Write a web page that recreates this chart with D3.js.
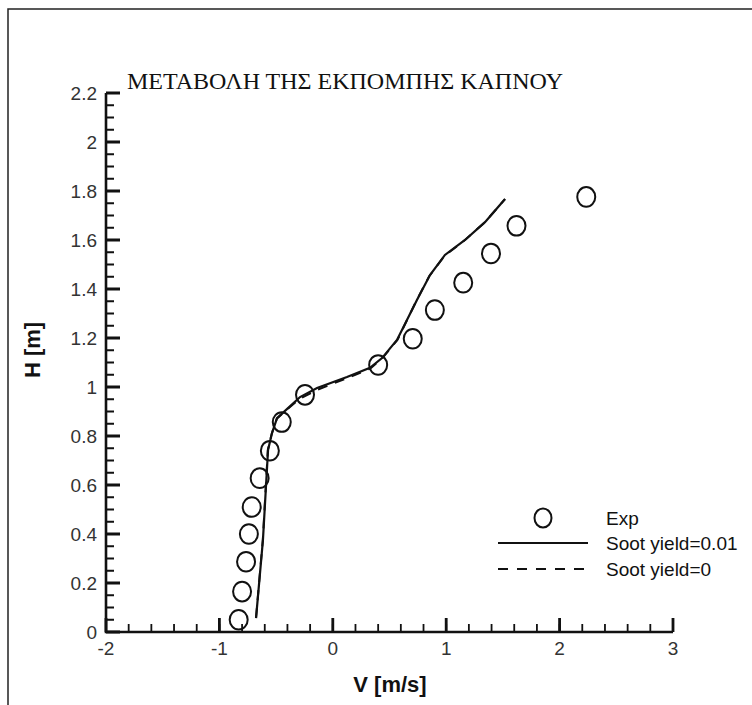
<!DOCTYPE html>
<html>
<head>
<meta charset="utf-8">
<script src="https://cdn.jsdelivr.net/npm/d3@7"></script>
<style>
  html, body { margin: 0; padding: 0; background: #ffffff; }
  svg { display: block; }
  .ticklabel { font-family: "Liberation Sans", Arial, sans-serif; font-size: 19px; fill: #333; }
</style>
</head>
<body>
<script>
// Measured velocity profile (experiment)
const expV = [-0.83, -0.80, -0.765, -0.74, -0.715, -0.645, -0.555, -0.45, -0.245, 0.40, 0.705, 0.90, 1.15, 1.395, 1.62, 2.235];
const expH = [0.05, 0.165, 0.287, 0.40, 0.51, 0.628, 0.74, 0.857, 0.968, 1.09, 1.197, 1.314, 1.426, 1.545, 1.658, 1.776];

// Computed profile, soot yield = 0.01
const sootV = [-0.677, -0.616, -0.571, -0.536, -0.492, -0.395, -0.289, -0.139, 0.125, 0.328, 0.434, 0.566, 0.742, 0.857, 0.989, 1.166, 1.342, 1.519];
const sootH = [0.057, 0.376, 0.743, 0.812, 0.873, 0.914, 0.959, 0.996, 1.041, 1.078, 1.118, 1.192, 1.355, 1.457, 1.539, 1.600, 1.673, 1.767];

// Computed profile, soot yield = 0
const noSootV = [-0.677, -0.617, -0.573, -0.538, -0.494, -0.400, -0.292, -0.130, 0.120, 0.330, 0.438, 0.570, 0.735, 0.850, 0.985, 1.160, 1.340, 1.519];
const noSootH = [0.057, 0.376, 0.743, 0.810, 0.870, 0.910, 0.952, 0.990, 1.035, 1.075, 1.118, 1.192, 1.350, 1.452, 1.535, 1.598, 1.672, 1.767];

const xTicks = [-2, -1, 0, 1, 2, 3];
const yTicks = [0, 0.2, 0.4, 0.6, 0.8, 1, 1.2, 1.4, 1.6, 1.8, 2, 2.2];
const xTickLabels = ["-2", "-1", "0", "1", "2", "3"];
const yTickLabels = ["0", "0.2", "0.4", "0.6", "0.8", "1", "1.2", "1.4", "1.6", "1.8", "2", "2.2"];

const title = "ΜΕΤΑΒΟΛΗ ΤΗΣ ΕΚΠΟΜΠΗΣ ΚΑΠΝΟΥ";
const xTitle = "V [m/s]";
const yTitle = "H [m]";
const legendLabels = ["Exp", "Soot yield=0.01", "Soot yield=0"];

const W = 752, H = 705;
const svg = d3.select("body").append("svg").attr("width", W).attr("height", H);
const ink = "#111";

// Outer frame (top and left edges)
svg.append("path")
  .attr("d", "M8,705 L8,9 L752,9")
  .attr("fill", "none").attr("stroke", "#222").attr("stroke-width", 1.5);

const x = d3.scaleLinear().domain([-2, 3]).range([106, 673]);
const y = d3.scaleLinear().domain([0, 2.2]).range([632, 93]);
const x0 = x.range()[0], y0 = y.range()[0];

// Minor tick positions
const xMinor = d3.range(0, 26).map(i => +(-2 + i * 0.2).toFixed(2));
const yMinor = d3.range(0, 45).map(i => +(i * 0.05).toFixed(2));

// Tick marks, all pointing into the plot area
const minorTicks = xMinor.map(d => `M${x(d)},${y0}V${y0 - 8}`).join("")
  + yMinor.map(d => `M${x0},${y(d)}H${x0 + 8}`).join("");
const majorTicks = xTicks.map(d => `M${x(d)},${y0}V${y0 - 14}`).join("")
  + yTicks.map(d => `M${x0},${y(d)}H${x0 + 14}`).join("");

svg.append("path").attr("d", minorTicks)
  .attr("fill", "none").attr("stroke", ink).attr("stroke-width", 1.8);
svg.append("path").attr("d", majorTicks)
  .attr("fill", "none").attr("stroke", ink).attr("stroke-width", 2.8);

// Axis lines
svg.append("path")
  .attr("d", `M${x0},${y(2.2)}L${x0},${y0}L${x(3)},${y0}`)
  .attr("fill", "none").attr("stroke", ink).attr("stroke-width", 2.6);

// Tick labels
svg.append("g").selectAll("text").data(xTicks).join("text")
  .attr("class", "ticklabel")
  .attr("x", d => x(d)).attr("y", y0 + 23)
  .attr("text-anchor", "middle")
  .text((d, i) => xTickLabels[i]);
svg.append("g").selectAll("text").data(yTicks).join("text")
  .attr("class", "ticklabel")
  .attr("x", x0 - 9).attr("y", d => y(d)).attr("dy", "0.35em")
  .attr("text-anchor", "end")
  .text((d, i) => yTickLabels[i]);

// Title
svg.append("text")
  .attr("x", 127).attr("y", 89)
  .attr("font-family", "'Liberation Serif', 'Times New Roman', serif")
  .attr("font-size", 24)
  .attr("textLength", 436).attr("lengthAdjust", "spacingAndGlyphs")
  .attr("fill", ink)
  .text(title);

// Axis titles
svg.append("text")
  .attr("x", 390).attr("y", 692)
  .attr("text-anchor", "middle")
  .attr("font-family", "'Liberation Sans', Arial, sans-serif")
  .attr("font-weight", "bold").attr("font-size", 22)
  .attr("fill", ink)
  .text(xTitle);

svg.append("text")
  .attr("transform", "translate(40,350) rotate(-90)")
  .attr("text-anchor", "middle")
  .attr("font-family", "'Liberation Sans', Arial, sans-serif")
  .attr("font-weight", "bold").attr("font-size", 22)
  .attr("fill", ink)
  .text(yTitle);

// Profiles
const line = d3.line().x(d => x(d[0])).y(d => y(d[1]));
const sootData = sootV.map((v, i) => [v, sootH[i]]);
const noSootData = noSootV.map((v, i) => [v, noSootH[i]]);
const expData = expV.map((v, i) => [v, expH[i]]);

svg.append("path").datum(noSootData)
  .attr("d", line).attr("fill", "none")
  .attr("stroke", ink).attr("stroke-width", 2).attr("stroke-dasharray", "10,8");

svg.append("path").datum(sootData)
  .attr("d", line).attr("fill", "none")
  .attr("stroke", ink).attr("stroke-width", 2.2);

svg.append("g").selectAll("ellipse").data(expData).join("ellipse")
  .attr("cx", d => x(d[0])).attr("cy", d => y(d[1]))
  .attr("rx", 9).attr("ry", 9.8)
  .attr("fill", "none").attr("stroke", ink).attr("stroke-width", 2);

// Legend
const lg = svg.append("g").attr("font-family", "'Liberation Sans', Arial, sans-serif").attr("font-size", 19).attr("fill", ink);
const rows = [518, 543, 569];
lg.append("ellipse").attr("cx", 543).attr("cy", rows[0]).attr("rx", 8.5).attr("ry", 9.5)
  .attr("fill", "none").attr("stroke", ink).attr("stroke-width", 2);
lg.append("path").attr("d", `M498,${rows[1]}H588`)
  .attr("stroke", ink).attr("stroke-width", 2.2);
lg.append("path").attr("d", `M498,${rows[2]}H588`)
  .attr("stroke", ink).attr("stroke-width", 2.2).attr("stroke-dasharray", "10,9");
legendLabels.forEach((t, i) => {
  lg.append("text").attr("x", 606).attr("y", rows[i]).attr("dy", "0.35em").text(t);
});
</script>
</body>
</html>
